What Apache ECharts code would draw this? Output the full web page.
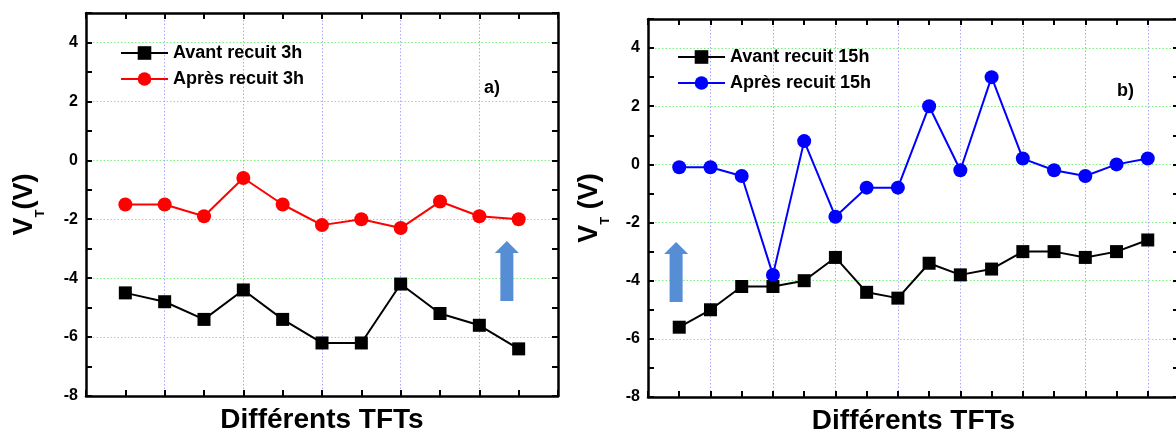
<!DOCTYPE html>
<html><head><meta charset="utf-8">
<script src="https://cdn.jsdelivr.net/npm/echarts@6/dist/echarts.min.js"></script>
<style>html,body{margin:0;padding:0;background:#fff}#c{width:1176px;height:433px}</style>
</head><body><div id="c"></div>
<script>
// ---- data ----
const tftA = [1, 2, 3, 4, 5, 6, 7, 8, 9, 10, 11];
const avant3h = [-4.5, -4.8, -5.4, -4.4, -5.4, -6.2, -6.2, -4.2, -5.2, -5.6, -6.4];
const apres3h = [-1.5, -1.5, -1.9, -0.6, -1.5, -2.2, -2.0, -2.3, -1.4, -1.9, -2.0];
const tftB = [1, 2, 3, 4, 5, 6, 7, 8, 9, 10, 11, 12, 13, 14, 15, 16];
const avant15h = [-5.6, -5.0, -4.2, -4.2, -4.0, -3.2, -4.4, -4.6, -3.4, -3.8, -3.6, -3.0, -3.0, -3.2, -3.0, -2.6];
const apres15h = [-0.1, -0.1, -0.4, -3.8, 0.8, -1.8, -0.8, -0.8, 2.0, -0.2, 3.0, 0.2, -0.2, -0.4, 0.0, 0.2];
const arrowA = [10.7, -3.76];
const arrowB = [0.9, -3.7];
const yTickLabels = [-8, -6, -4, -2, 0, 2, 4];
const namesA = ['Avant recuit 3h', 'Après recuit 3h'];
const namesB = ['Avant recuit 15h', 'Après recuit 15h'];
const xName = 'Différents TFTs';

const FONT = 'Liberation Sans, Arial, sans-serif';
const pair = (xs, ys) => xs.map((x, i) => [x, ys[i]]);
const ARROW = 'path://M12,0 L24,12 L18.5,12 L18.5,60 L5.5,60 L5.5,12 L0,12 Z';

function xAx(grid, pos, max, withName) {
  return {
    type: 'value', gridIndex: grid, position: pos, min: 0, max: max, interval: 1, z: 5,
    axisLine: { show: true, onZero: false, lineStyle: { color: '#000', width: 2.5 } },
    axisTick: { show: true, inside: true, length: 6, lineStyle: { color: '#000', width: 2 } },
    axisLabel: { show: false },
    splitLine: { show: false },
    name: withName ? xName : '', nameLocation: 'middle', nameGap: 10,
    nameTextStyle: { fontFamily: FONT, fontWeight: 'bold', fontSize: 28, color: '#000', verticalAlign: 'top' }
  };
}
function xGridAx(grid, max) {
  return {
    type: 'value', gridIndex: grid, position: 'bottom', min: 0, max: max, interval: 2, z: 0,
    axisLine: { show: false }, axisTick: { show: false }, axisLabel: { show: false },
    splitLine: { show: true, showMinLine: false, showMaxLine: false,
      lineStyle: { color: '#a8a8ff', type: [1.5, 2], width: 1 } }
  };
}
function yAx(grid, pos, main, nm, gap) {
  return {
    type: 'value', gridIndex: grid, position: pos, min: -8, max: 5, interval: 1, z: 5,
    axisLine: { show: true, onZero: false, lineStyle: { color: '#000', width: 2.5 } },
    axisTick: { show: true, inside: true, length: 6, lineStyle: { color: '#000', width: 2 } },
    axisLabel: { show: main, margin: 8, fontFamily: FONT, fontWeight: 'bold', fontSize: 16, color: '#000',
      formatter: v => (yTickLabels.indexOf(v) >= 0 ? String(v) : '') },
    splitLine: { show: false },
    name: main ? nm : '', nameLocation: 'middle', nameGap: gap,
    nameTextStyle: { rich: {
      a: { fontFamily: FONT, fontWeight: 'bold', fontSize: 27, color: '#000', lineHeight: 27, verticalAlign: 'top' },
      b: { fontFamily: FONT, fontWeight: 'bold', fontSize: 13, color: '#000', lineHeight: 13, padding: [23, 0, 0, 0], verticalAlign: 'top' }
    } }
  };
}
function yGridAx(grid) {
  return {
    type: 'value', gridIndex: grid, position: 'left', min: -8, max: 5, interval: 2, z: 0,
    axisLine: { show: false }, axisTick: { show: false }, axisLabel: { show: false },
    splitLine: { show: true, showMinLine: false, showMaxLine: false,
      lineStyle: { color: '#7cf07c', type: [1.5, 2], width: 1 } }
  };
}
function lineSeries(name, xi, yi, xs, ys, color, symbol, size, arrow) {
  const s = {
    name: name, type: 'line', xAxisIndex: xi, yAxisIndex: yi, data: pair(xs, ys),
    symbol: symbol, symbolSize: size, showSymbol: true,
    lineStyle: { color: color, width: 2 }, itemStyle: { color: color },
    z: 3
  };
  if (arrow) {
    s.markPoint = { symbol: ARROW, symbolSize: [24, 60], symbolKeepAspect: false, silent: true,
      itemStyle: { color: '#558ed5' }, label: { show: false },
      data: [{ coord: arrow }] };
  }
  return s;
}

const chart = echarts.init(document.getElementById('c'), null, { renderer: 'canvas' });
chart.setOption({
  animation: false,
  backgroundColor: '#fff',
  textStyle: { fontFamily: FONT },
  grid: [
    { left: 86, top: 13, width: 472, height: 383, outerBoundsMode: 'none', containLabel: false },
    { left: 648, top: 19, width: 531, height: 378, outerBoundsMode: 'none', containLabel: false }
  ],
  xAxis: [xAx(0, 'bottom', 12, true), xAx(0, 'top', 12, false), xGridAx(0, 12),
          xAx(1, 'bottom', 17, true), xAx(1, 'top', 17, false), xGridAx(1, 17)],
  yAxis: [yAx(0, 'left', true, '{a|V}{b|T}{a|(V)}', 48), yAx(0, 'right', false, '', 0), yGridAx(0),
          yAx(1, 'left', true, '{a|V}{b|T}{a| (V)}', 45), yAx(1, 'right', false, '', 0), yGridAx(1)],
  legend: [
    { data: namesA, orient: 'vertical', left: 120, top: 44, padding: 0, itemWidth: 47, itemHeight: 17, itemGap: 8,
      textStyle: { fontFamily: FONT, fontWeight: 'bold', fontSize: 18, color: '#000' }, selectedMode: false },
    { data: namesB, orient: 'vertical', left: 677, top: 48, padding: 0, itemWidth: 47, itemHeight: 17, itemGap: 8,
      textStyle: { fontFamily: FONT, fontWeight: 'bold', fontSize: 18, color: '#000' }, selectedMode: false }
  ],
  graphic: [
    { type: 'text', left: 484, top: 79, style: { text: 'a)', fontFamily: FONT, fontWeight: 'bold', fontSize: 18, fill: '#000' } },
    { type: 'text', left: 1117, top: 82, style: { text: 'b)', fontFamily: FONT, fontWeight: 'bold', fontSize: 18, fill: '#000' } }
  ],
  series: [
    lineSeries(namesA[0], 0, 0, tftA, avant3h, '#000', 'rect', 13, null),
    lineSeries(namesA[1], 0, 0, tftA, apres3h, '#ff0000', 'circle', 14, arrowA),
    lineSeries(namesB[0], 3, 3, tftB, avant15h, '#000', 'rect', 13, null),
    lineSeries(namesB[1], 3, 3, tftB, apres15h, '#0000ff', 'circle', 14, arrowB)
  ]
});
</script>
</body></html>
